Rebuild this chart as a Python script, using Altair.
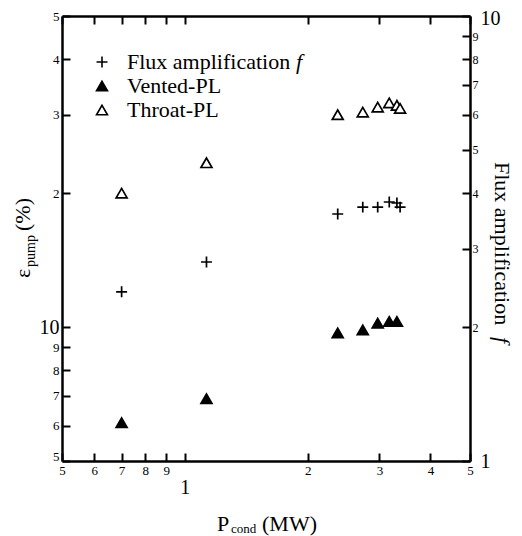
import altair as alt
import pandas as pd

# ---- data ----
series = ["Flux amplification", "Vented-PL", "Throat-PL"]

p_flux = [0.70, 1.13, 2.37, 2.73, 2.97, 3.17, 3.31, 3.37]
f_flux = [2.40, 2.80, 3.59, 3.72, 3.72, 3.82, 3.80, 3.72]

p_vent = [0.70, 1.13, 2.37, 2.73, 2.97, 3.17, 3.31]
eps_vent = [6.1, 6.9, 9.7, 9.85, 10.2, 10.3, 10.3]

p_throat = [0.70, 1.13, 2.37, 2.73, 2.97, 3.17, 3.31, 3.37]
eps_throat = [20.0, 23.4, 30.0, 30.4, 31.2, 31.9, 31.5, 31.0]

x_ticks = [0.5, 0.6, 0.7, 0.8, 0.9, 1, 2, 3, 4, 5]
left_ticks = [5, 6, 7, 8, 9, 10, 20, 30, 40, 50]
right_ticks = [1, 2, 3, 4, 5, 6, 7, 8, 9, 10]

FONT = "Liberation Serif"

flux_df = pd.DataFrame({"p": p_flux, "v": f_flux, "s": series[0]})
pl_df = pd.concat([
    pd.DataFrame({"p": p_vent, "v": eps_vent, "s": series[1]}),
    pd.DataFrame({"p": p_throat, "v": eps_throat, "s": series[2]}),
], ignore_index=True)

PLUS = "M-1,0H1M0,-1V1"
shape_scale = alt.Scale(domain=series, range=[PLUS, "triangle-up", "triangle-up"])
fill_scale = alt.Scale(domain=series, range=["transparent", "black", "white"])
stroke_scale = alt.Scale(domain=series, range=["black", "black", "black"])

legend = alt.Legend(
    title=None, orient="none", legendX=29, legendY=35,
    labelFont=FONT, labelFontSize=22, labelColor="black", labelOffset=14,
    symbolStrokeWidth=1.6, symbolSize=120,
    rowPadding=2, padding=0, labelLimit=400,
)

xs = alt.Scale(type="log", domain=[0.5, 5], nice=False)
ys_left = alt.Scale(type="log", domain=[5, 50], nice=False)
ys_right = alt.Scale(type="log", domain=[1, 10], nice=False)

TICK = 8  # inward tick length; labels are offset by it

common_axis = dict(
    grid=False, domainColor="black", domainWidth=2.5, tickColor="black",
    tickWidth=2, tickSize={"expr": f"-{TICK}"}, labelFont=FONT, labelColor="black",
    labelFlush=False, labelOverlap=False, labelBound=False, title=None,
)

bottom_axis = alt.Axis(
    orient="bottom", values=x_ticks,
    labelExpr="datum.value < 1 ? '' + round(datum.value*10) : '' + round(datum.value)",
    labelFontSize={"condition": {"test": "datum.value == 1", "value": 20}, "value": 13},
    labelPadding={"condition": {"test": "datum.value == 1", "value": TICK + 16}, "value": TICK + 3},
    **common_axis,
)
top_axis = alt.Axis(orient="top", values=x_ticks, labels=False, **common_axis)
left_axis = alt.Axis(
    orient="left", values=left_ticks,
    labelExpr="datum.value >= 20 ? '' + round(datum.value/10) : '' + round(datum.value)",
    labelFontSize={"condition": {"test": "datum.value == 10", "value": 20}, "value": 13},
    labelPadding=TICK + 3,
    labelOffset={"condition": {"test": "datum.value == 5", "value": -5}, "value": 0},
    **common_axis,
)
right_axis = alt.Axis(
    orient="right", values=right_ticks,
    labelFontSize={"condition": {"test": "datum.value == 1 || datum.value == 10", "value": 20}, "value": 12},
    labelPadding={"condition": {"test": "datum.value == 1 || datum.value == 10", "value": TICK + 10},
                  "value": TICK + 2},
    labelOffset={"condition": {"test": "datum.value == 10", "value": 2}, "value": 0},
    **common_axis,
)

pt = dict(strokeWidth=1.7, size=120, opacity=1)

enc_common = dict(
    shape=alt.Shape("s:N", scale=shape_scale, legend=legend),
    fill=alt.Fill("s:N", scale=fill_scale, legend=legend),
    stroke=alt.Stroke("s:N", scale=stroke_scale, legend=legend),
)

pl_layer = alt.Chart(pl_df).mark_point(**pt).encode(
    x=alt.X("p:Q", scale=xs, axis=bottom_axis),
    y=alt.Y("v:Q", scale=ys_left, axis=left_axis),
    **enc_common,
)
flux_layer = alt.Chart(flux_df).mark_point(**pt).encode(
    x=alt.X("p:Q", scale=xs, axis=top_axis),
    y=alt.Y("v:Q", scale=ys_right, axis=right_axis),
    **enc_common,
)

one = pd.DataFrame({"k": [0]})


def txt(s, x, y, size=22, angle=0, style="normal", align="left", baseline="alphabetic"):
    kw = dict(text=s, font=FONT, fontSize=size, fontStyle=style, color="black",
              align=align, baseline=baseline)
    if angle:
        kw["angle"] = angle
    return alt.Chart(one).mark_text(**kw).encode(x=alt.value(x), y=alt.value(y))


texts = [
    # x-axis title  P_cond (MW)
    txt("P", 155, 515),
    txt("cond", 169, 517, size=13),
    txt("(MW)", 200, 515),
    # left title  ε_pump (%)
    txt("ε", -32, 262, angle=270),
    txt("pump", -27, 251, size=14, angle=270),
    txt("(%)", -32, 215, angle=270),
    # right title  Flux amplification f
    txt("Flux amplification", 433, 146, angle=90),
    txt("f", 433, 321, angle=90, style="italic"),
    # italic f in legend
    txt("f", 234, 46, style="italic", baseline="middle"),
]

chart = alt.layer(pl_layer, flux_layer, *texts).resolve_scale(
    y="independent"
).resolve_axis(x="independent", y="independent").properties(
    width=408, height=445,
    padding={"left": 54, "top": 8, "right": 44, "bottom": 75},
    autosize=alt.AutoSizeParams(type="none"),
).configure_view(stroke=None)

chart.save("out.html", embed_options={"renderer": "svg", "actions": False})
